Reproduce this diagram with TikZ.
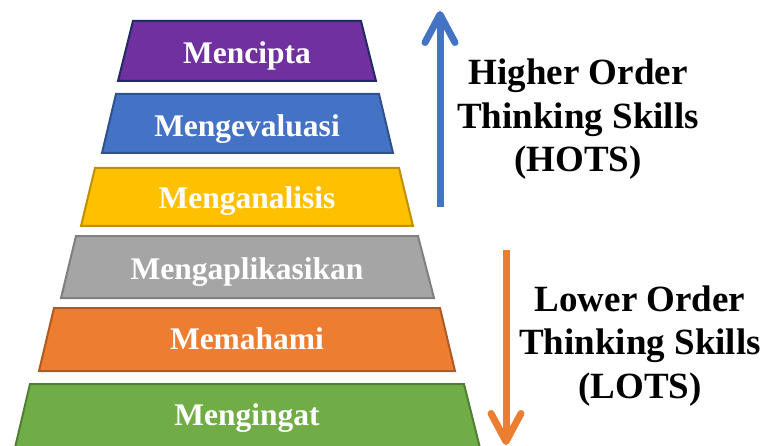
\documentclass[tikz,border=0pt]{standalone}
\usepackage{fontspec}
\setmainfont{Liberation Serif}
\usetikzlibrary{arrows.meta}

\definecolor{lvpurple}{HTML}{7030A0}
\definecolor{lvpurpleb}{HTML}{1F2A66}
\definecolor{lvblue}{HTML}{4472C4}
\definecolor{lvblueb}{HTML}{2F528F}
\definecolor{lvyellow}{HTML}{FFC000}
\definecolor{lvyellowb}{HTML}{BF9000}
\definecolor{lvgray}{HTML}{A5A5A5}
\definecolor{lvgrayb}{HTML}{7F7F7F}
\definecolor{lvorange}{HTML}{ED7D31}
\definecolor{lvorangeb}{HTML}{AE5A21}
\definecolor{lvgreen}{HTML}{70AD47}
\definecolor{lvgreenb}{HTML}{507E32}

\begin{document}
\begin{tikzpicture}[x=1pt, y=-1pt,
    level/.style={line width=2pt, line join=miter},
    lbl/.style={text=white, font=\fontsize{31.5}{36}\selectfont\bfseries, anchor=base},
    side/.style={font=\fontsize{37}{43.5}\selectfont\bfseries, align=center, anchor=base},
    order/.style={line width=7pt, -{Straight Barb[length=28pt, width=30pt, round]}}]
    \useasboundingbox (0, 0) rectangle (762, 446);
    \clip (0, 0) rectangle (762, 446);

    % the six levels, from the top
    \filldraw[level, fill=lvpurple, draw=lvpurpleb] (133, 21) -- (361, 21) -- (376, 81) -- (118, 81) -- cycle;
    \filldraw[level, fill=lvblue, draw=lvblueb] (116, 94) -- (379, 94) -- (393, 153) -- (102, 153) -- cycle;
    \filldraw[level, fill=lvyellow, draw=lvyellowb] (95, 168) -- (399, 168) -- (413, 226) -- (81, 226) -- cycle;
    \filldraw[level, fill=lvgray, draw=lvgrayb] (76, 236) -- (418, 236) -- (434, 298) -- (61, 298) -- cycle;
    \filldraw[level, fill=lvorange, draw=lvorangeb] (54, 308) -- (440, 308) -- (455, 371) -- (39, 371) -- cycle;
    \filldraw[level, fill=lvgreen, draw=lvgreenb] (30, 384) -- (464, 384) -- (481, 452) -- (14, 452) -- cycle;

    \node[lbl] (mencipta) at (247, 64) {Mencipta};
    \node[lbl] (mengevaluasi) at (247, 137) {Mengevaluasi};
    \node[lbl] (menganalisis) at (247, 209) {Menganalisis};
    \node[lbl] (mengaplikasikan) at (247, 279) {Mengaplikasikan};
    \node[lbl] (memahami) at (247, 349) {Memahami};
    \node[lbl] (mengingat) at (247, 425) {Mengingat};

    % arrows
    \coordinate (hotsfoot) at (440, 207);
    \coordinate (hotstip) at (440, 11);
    \coordinate (lotsfoot) at (506, 250);
    \coordinate (lotstip) at (506, 445);
    \draw[order, draw=lvblue] (hotsfoot) -- (hotstip);
    \draw[order, draw=lvorange] (lotsfoot) -- (lotstip);

    % base is the baseline of the last line
    \node[side] (hots) at (578, 172) {Higher Order\\Thinking Skills\\(HOTS)};
    \node[side] (lots) at (640, 398) {Lower Order\\Thinking Skills\\(LOTS)};
\end{tikzpicture}
\end{document}
